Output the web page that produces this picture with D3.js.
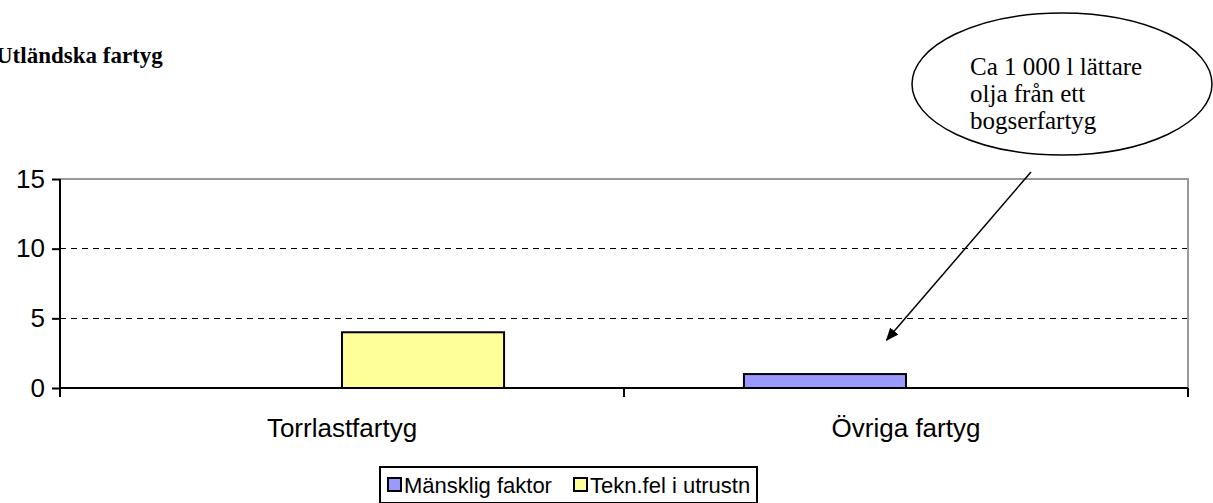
<!DOCTYPE html>
<html>
<head>
<meta charset="utf-8">
<script src="https://cdn.jsdelivr.net/npm/d3@7"></script>
<style>
  html, body { margin: 0; padding: 0; background: #fff; }
  svg { display: block; }
</style>
</head>
<body>
<svg id="chart" width="1213" height="503"></svg>
<script>
// Incidents per ship type, split by cause
const categories = ["Torrlastfartyg", "Övriga fartyg"];
const seriesNames = ["Mänsklig faktor", "Tekn.fel i utrustn"];
const mansklig = [0, 1];
const tekniskFel = [4, 0];
const seriesColors = ["#9999FF", "#FFFF99"];
const yTicks = [0, 5, 10, 15];
const title = "Utländska fartyg";
const calloutLines = ["Ca 1 000 l lättare", "olja från ett", "bogserfartyg"];

const values = [mansklig, tekniskFel];

const svg = d3.select("#chart");
const plot = { left: 60, right: 1188, top: 179, bottom: 388 };
const sans = "'Liberation Sans', Arial, sans-serif";
const serif = "'Liberation Serif', 'Times New Roman', serif";

const x = d3.scaleBand().domain(categories).range([plot.left, plot.right]).padding(0);
const xInner = d3.scaleBand().domain(seriesNames).range([0, x.bandwidth()])
  .paddingInner(0).paddingOuter(0.74);
const y = d3.scaleLinear().domain([0, 15]).range([plot.bottom, plot.top]);

// arrow marker
svg.append("defs").append("marker")
  .attr("id", "arrow").attr("viewBox", "0 0 12 10")
  .attr("refX", 11).attr("refY", 5)
  .attr("markerWidth", 13).attr("markerHeight", 11)
  .attr("markerUnits", "userSpaceOnUse")
  .attr("orient", "auto")
  .append("path").attr("d", "M0,0 L12,5 L0,10 Z").attr("fill", "#000");

// title
svg.append("text")
  .attr("x", -4).attr("y", 63)
  .attr("font-family", serif)
  .attr("font-weight", "bold").attr("font-size", 23)
  .text(title);

// gridlines
svg.append("g").selectAll("line")
  .data(yTicks.filter(d => d > 0 && d < 15))
  .join("line")
  .attr("x1", plot.left).attr("x2", plot.right)
  .attr("y1", d => y(d)).attr("y2", d => y(d))
  .attr("stroke", "#000").attr("stroke-width", 1)
  .attr("stroke-dasharray", "6,5")
  .attr("shape-rendering", "crispEdges");

// top and right plot borders
svg.append("path")
  .attr("d", `M${plot.left},${y(15)}H${plot.right}V${plot.bottom}`)
  .attr("fill", "none").attr("stroke", "#999").attr("stroke-width", 2);

// bars
const barData = [];
categories.forEach((c, ci) => {
  seriesNames.forEach((s, si) => {
    barData.push({ cat: c, series: s, value: values[si][ci], color: seriesColors[si] });
  });
});
svg.append("g").selectAll("rect")
  .data(barData.filter(d => d.value > 0))
  .join("rect")
  .attr("x", d => x(d.cat) + xInner(d.series))
  .attr("y", d => y(d.value))
  .attr("width", xInner.bandwidth())
  .attr("height", d => y(0) - y(d.value))
  .attr("fill", d => d.color)
  .attr("stroke", "#000").attr("stroke-width", 2);

// y axis
const yAxis = svg.append("g")
  .attr("transform", `translate(${plot.left},0)`)
  .call(d3.axisLeft(y).tickValues(yTicks).tickSize(8).tickPadding(7));
yAxis.select(".domain").attr("stroke", "#000").attr("stroke-width", 2)
  .attr("d", `M0,${y(15)}V${plot.bottom + 7}`);
yAxis.selectAll(".tick line").attr("stroke", "#000").attr("stroke-width", 2);
yAxis.selectAll(".tick text")
  .attr("font-family", sans)
  .attr("font-size", 26).attr("fill", "#000");

// x axis
const xAxis = svg.append("g")
  .attr("transform", `translate(0,${plot.bottom})`)
  .call(d3.axisBottom(x).tickSize(0).tickPadding(31));
xAxis.select(".domain").attr("stroke", "#000").attr("stroke-width", 2)
  .attr("d", `M${plot.left},0H${plot.right}`);
xAxis.selectAll(".tick text")
  .attr("font-family", sans)
  .attr("font-size", 26).attr("fill", "#000");
const boundaries = [...categories.map(c => x(c)), plot.right];
xAxis.append("g").selectAll("line")
  .data(boundaries)
  .join("line")
  .attr("x1", d => d).attr("x2", d => d)
  .attr("y1", 0).attr("y2", 9)
  .attr("stroke", "#000").attr("stroke-width", 2);

// callout bubble
svg.append("ellipse")
  .attr("cx", 1062).attr("cy", 84).attr("rx", 150).attr("ry", 71)
  .attr("fill", "#fff").attr("stroke", "#000").attr("stroke-width", 1.5);
const ct = svg.append("text")
  .attr("font-family", serif)
  .attr("font-size", 25).attr("fill", "#000");
calloutLines.forEach((line, i) => {
  ct.append("tspan").attr("x", 970).attr("y", 75 + i * 27).text(line);
});

// arrow from bubble to the bar
const target = barData.find(d => d.cat === "Övriga fartyg" && d.series === "Mänsklig faktor");
const tx = x(target.cat) + xInner(target.series) + xInner.bandwidth() * 0.88;
const ty = y(target.value) - 34;
svg.append("line")
  .attr("x1", 1031).attr("y1", 172)
  .attr("x2", tx).attr("y2", ty)
  .attr("stroke", "#000").attr("stroke-width", 1.5)
  .attr("marker-end", "url(#arrow)");

// legend
const legend = svg.append("g").attr("transform", "translate(380,467)");
legend.append("rect")
  .attr("x", 0).attr("y", 0).attr("width", 377).attr("height", 36)
  .attr("fill", "#fff").attr("stroke", "#000").attr("stroke-width", 2);
const legendX = [8, 194];
seriesNames.forEach((s, i) => {
  const g = legend.append("g").attr("transform", `translate(${legendX[i]},0)`);
  g.append("rect")
    .attr("x", 0).attr("y", 11).attr("width", 13).attr("height", 13)
    .attr("fill", seriesColors[i]).attr("stroke", "#000").attr("stroke-width", 2);
  g.append("text")
    .attr("x", 16).attr("y", 26)
    .attr("font-family", sans)
    .attr("font-size", 22).attr("fill", "#000")
    .text(s);
});
</script>
</body>
</html>
